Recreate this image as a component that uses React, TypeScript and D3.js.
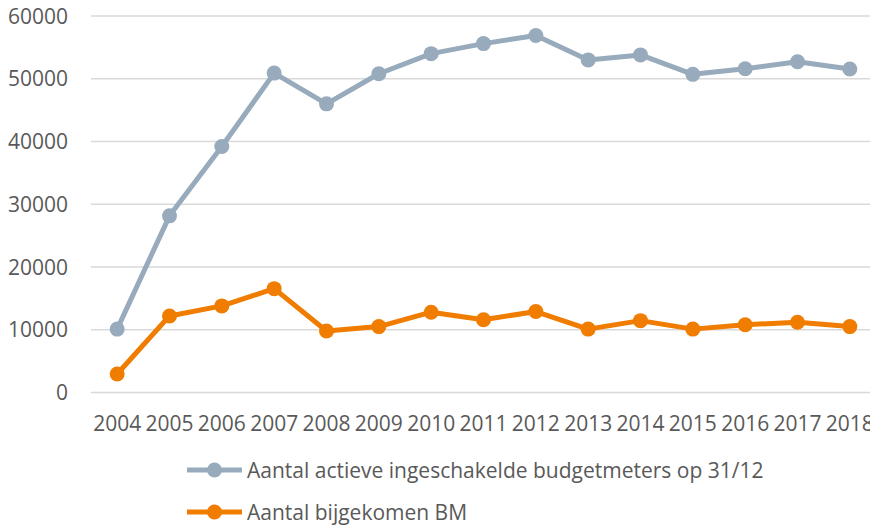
import React, { useEffect, useRef } from "react";
import * as d3 from "d3";

const years = ["2004", "2005", "2006", "2007", "2008", "2009", "2010", "2011", "2012", "2013", "2014", "2015", "2016", "2017", "2018"];
const actieve = [10100, 28150, 39200, 50900, 46000, 50800, 54000, 55600, 56900, 53000, 53800, 50700, 51600, 52700, 51550];
const bijgekomen = [2950, 12200, 13800, 16550, 9800, 10500, 12800, 11600, 12900, 10100, 11450, 10100, 10800, 11200, 10500];
const yTicks = [0, 10000, 20000, 30000, 40000, 50000, 60000];
const seriesNames = ["Aantal actieve ingeschakelde budgetmeters op 31/12", "Aantal bijgekomen BM"];
const colors = ["#97abbd", "#f07c00"];

export default function App() {
  const ref = useRef<SVGSVGElement>(null);
  const width = 870;
  const height = 526;

  useEffect(() => {
    const svg = d3.select(ref.current);
    svg.selectAll("*").remove();
    const font = "'Open Sans', sans-serif";

    const x = d3.scaleBand().domain(years).range([91, 876]);
    const y = d3.scaleLinear().domain([0, 60000]).range([392.5, 16]);

    // grid
    svg.append("g")
      .selectAll("line")
      .data(yTicks)
      .join("line")
      .attr("x1", 91).attr("x2", width)
      .attr("y1", d => y(d)).attr("y2", d => y(d))
      .attr("stroke", "#d9d9d9").attr("stroke-width", 1.5);

    // y labels
    svg.append("g")
      .selectAll("text")
      .data(yTicks)
      .join("text")
      .attr("x", 68).attr("y", d => y(d) + 7.5)
      .attr("text-anchor", "end")
      .attr("font-family", font).attr("font-size", 21)
      .attr("fill", "#595959")
      .text(d => d);

    // x labels
    svg.append("g")
      .selectAll("text")
      .data(years)
      .join("text")
      .attr("x", d => (x(d) as number) + x.bandwidth() / 2)
      .attr("y", 431)
      .attr("text-anchor", "middle")
      .attr("font-family", font).attr("font-size", 21)
      .attr("fill", "#595959")
      .text(d => d);

    const line = d3.line<number>()
      .x((_, i) => (x(years[i]) as number) + x.bandwidth() / 2)
      .y(d => y(d));

    [actieve, bijgekomen].forEach((vals, si) => {
      const g = svg.append("g");
      g.append("path")
        .attr("d", line(vals))
        .attr("fill", "none")
        .attr("stroke", colors[si])
        .attr("stroke-width", 5)
        .attr("stroke-linejoin", "round");
      g.selectAll("circle")
        .data(vals)
        .join("circle")
        .attr("cx", (_, i) => (x(years[i]) as number) + x.bandwidth() / 2)
        .attr("cy", d => y(d))
        .attr("r", 7.5)
        .attr("fill", colors[si]);
    });

    // legend
    const legend = svg.append("g");
    seriesNames.forEach((name, i) => {
      const ly = 470 + i * 42;
      legend.append("line")
        .attr("x1", 187).attr("x2", 242)
        .attr("y1", ly).attr("y2", ly)
        .attr("stroke", colors[i]).attr("stroke-width", 5);
      legend.append("circle")
        .attr("cx", 214.5).attr("cy", ly).attr("r", 7.5)
        .attr("fill", colors[i]);
      legend.append("text")
        .attr("x", 247).attr("y", ly + 7.5)
        .attr("font-family", font).attr("font-size", 21)
        .attr("fill", "#595959")
        .text(name);
    });
  }, []);

  return (
    <svg ref={ref} width={width} height={height}
      style={{ position: "absolute", left: 0, top: 0, background: "#fff" }} />
  );
}
